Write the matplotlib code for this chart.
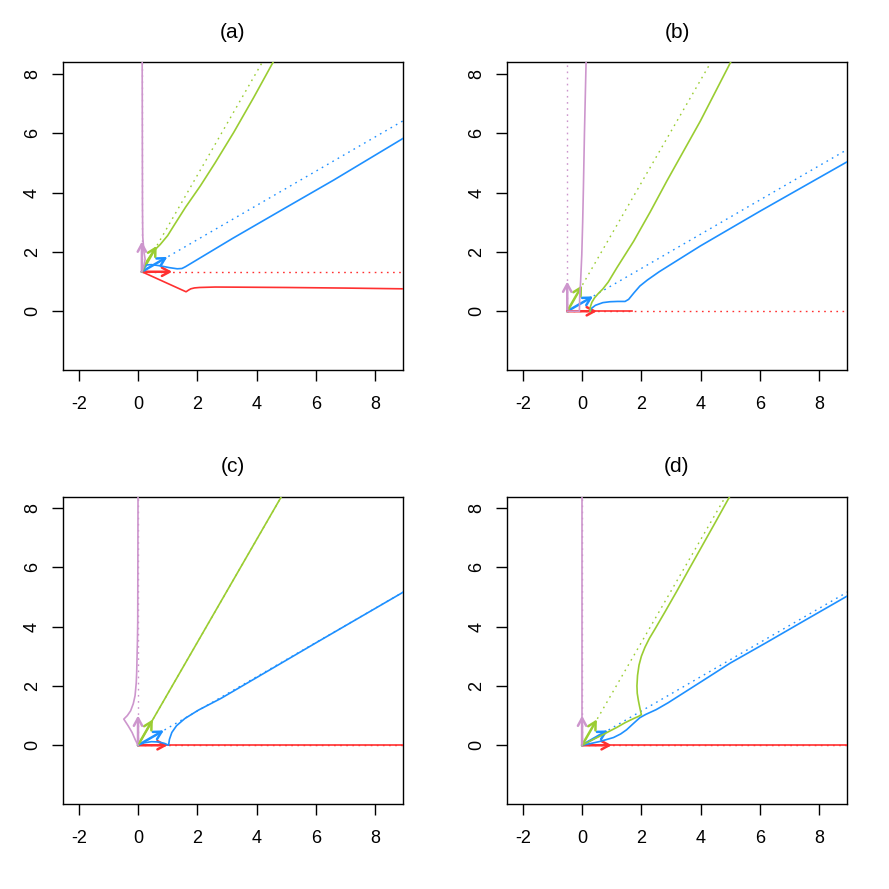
import matplotlib
matplotlib.use("Agg")
import matplotlib.pyplot as plt

plt.rcParams['font.family'] = ['Liberation Sans', 'DejaVu Sans']
plt.rcParams['axes.unicode_minus'] = False

RED = '#FF3030'
BLUE = '#1E90FF'
GREEN = '#9ACD32'
PURPLE = '#CD96CD'

titles = ['(a)', '(b)', '(c)', '(d)']
xticks = [-2, 0, 2, 4, 6, 8]
yticks = [0, 2, 4, 6, 8]

# panel (a)
a_origin = (0.13, 1.33)
a_tips = [(1.15, 1.33), (0.99, 1.83), (0.63, 2.20), (0.13, 2.35)]
a_dotted_ends = [(9.5, 1.33), (9.5, 6.74), (4.6, 9.1), (0.13, 9.0)]
a_red_x = [0.13, 1.62, 1.70, 1.78, 1.90, 2.07, 2.6, 3.5, 5.0, 7.0, 8.95]
a_red_y = [1.33, 0.655, 0.71, 0.755, 0.785, 0.80, 0.815, 0.81, 0.80, 0.78, 0.755]
a_blue_x = [0.13, 0.22, 0.30, 0.45, 0.75, 1.05, 1.32, 1.48, 1.60, 1.90, 3.20, 5.0, 6.6, 8.95]
a_blue_y = [1.33, 1.48, 1.56, 1.57, 1.53, 1.47, 1.43, 1.44, 1.50, 1.68, 2.46, 3.50, 4.42, 5.83]
a_green_x = [0.13, 0.30, 0.50, 0.75, 1.00, 1.20, 1.60, 2.10, 2.60, 3.23, 3.90, 4.56]
a_green_y = [1.33, 1.70, 2.00, 2.25, 2.55, 2.87, 3.50, 4.22, 5.00, 6.03, 7.20, 8.40]
a_purple_x = [0.13, 0.20, 0.24, 0.20, 0.16, 0.15, 0.14]
a_purple_y = [1.33, 1.55, 1.75, 2.00, 2.50, 3.50, 8.50]

# panel (b)
b_origin = (-0.5, 0.0)
b_tips = [(0.5, 0.0), (0.37, 0.5), (0.0, 0.87), (-0.5, 1.0)]
b_dotted_ends = [(9.5, 0.0), (9.5, 5.77), (4.5, 8.66), (-0.5, 9.0)]
b_red_x = [-0.5, 1.67]
b_red_y = [0.0, 0.0]
b_blue_x = [0.27, 0.32, 0.45, 0.70, 0.94, 1.20, 1.45, 1.57, 1.75, 1.95, 2.20, 2.60, 3.99, 6.0, 8.93]
b_blue_y = [0.00, 0.10, 0.20, 0.29, 0.32, 0.33, 0.33, 0.40, 0.62, 0.85, 1.05, 1.33, 2.20, 3.37, 5.03]
b_green_x = [0.27, 0.28, 0.33, 0.42, 0.55, 0.70, 0.88, 1.17, 1.74, 2.30, 2.86, 3.99, 5.02]
b_green_y = [0.00, 0.15, 0.30, 0.45, 0.60, 0.75, 0.98, 1.46, 2.36, 3.35, 4.39, 6.41, 8.41]
b_purple_x = [-0.5, -0.09, -0.08, -0.05, -0.01, 0.02, 0.045, 0.08, 0.135]
b_purple_y = [0.0, 0.0, 0.5, 1.0, 1.9, 3.0, 4.16, 6.0, 8.4]

# panel (c)
c_origin = (0.0, 0.0)
c_tips = [(1.0, 0.0), (0.87, 0.5), (0.5, 0.87), (0.0, 1.0)]
c_dotted_ends = [(9.5, 0.0), (9.5, 5.48), (5.0, 8.66), (0.0, 9.0)]
c_red_x = [0.0, 9.5]
c_red_y = [0.0, 0.0]
c_blue_x = [0.0, 0.20, 0.45, 0.70, 0.90, 1.03, 1.06, 1.14, 1.30, 1.58, 2.03, 2.80, 4.0, 6.0, 8.93]
c_blue_y = [0.0, 0.08, 0.12, 0.11, 0.06, 0.00, 0.20, 0.43, 0.66, 0.90, 1.18, 1.58, 2.28, 3.45, 5.15]
c_green_x = [0.0, 4.9]
c_green_y = [0.0, 8.49]
c_purple_x = [0.0, -0.10, -0.20, -0.33, -0.48, -0.36, -0.25, -0.16, -0.10, -0.06, -0.045, -0.02, -0.01, 0.0]
c_purple_y = [0.0, 0.20, 0.43, 0.65, 0.88, 1.00, 1.16, 1.40, 1.67, 2.10, 2.46, 3.50, 4.15, 8.5]

# panel (d)
d_origin = (0.0, 0.0)
d_tips = [(1.0, 0.0), (0.87, 0.5), (0.5, 0.87), (0.0, 1.0)]
d_dotted_ends = [(9.5, 0.0), (9.5, 5.48), (5.0, 8.66), (0.0, 9.0)]
d_red_x = [0.0, 9.5]
d_red_y = [0.0, 0.0]
d_blue_x = [0.0, 0.30, 0.61, 1.06, 1.30, 1.50, 1.75, 1.95, 2.15, 2.50, 2.90, 4.0, 5.0, 6.2, 7.5, 8.93]
d_blue_y = [0.0, 0.06, 0.13, 0.26, 0.38, 0.52, 0.75, 0.93, 1.04, 1.20, 1.43, 2.13, 2.77, 3.45, 4.20, 5.02]
d_green_x = [0.0, 0.30, 0.61, 0.90, 1.17, 1.45, 1.74, 1.90, 2.00, 1.95, 1.90, 1.86, 1.85, 1.87, 1.92, 2.00,
             2.12, 2.27, 2.45, 2.80, 3.20, 3.60, 4.00, 4.50, 4.99]
d_green_y = [0.0, 0.16, 0.31, 0.46, 0.60, 0.76, 0.90, 0.97, 1.03, 1.25, 1.50, 1.75, 2.00, 2.35, 2.70, 3.00,
             3.30, 3.60, 3.90, 4.50, 5.20, 5.92, 6.63, 7.52, 8.40]
d_purple_x = [0.0, 0.0]
d_purple_y = [0.0, 8.5]

panels = [
    (a_origin, a_tips, a_dotted_ends, (a_red_x, a_red_y), (a_blue_x, a_blue_y),
     (a_green_x, a_green_y), (a_purple_x, a_purple_y)),
    (b_origin, b_tips, b_dotted_ends, (b_red_x, b_red_y), (b_blue_x, b_blue_y),
     (b_green_x, b_green_y), (b_purple_x, b_purple_y)),
    (c_origin, c_tips, c_dotted_ends, (c_red_x, c_red_y), (c_blue_x, c_blue_y),
     (c_green_x, c_green_y), (c_purple_x, c_purple_y)),
    (d_origin, d_tips, d_dotted_ends, (d_red_x, d_red_y), (d_blue_x, d_blue_y),
     (d_green_x, d_green_y), (d_purple_x, d_purple_y)),
]
colors = [RED, BLUE, GREEN, PURPLE]

fig = plt.figure(figsize=(8.89, 8.89), dpi=100)
lefts = [0.0712, 0.5707, 0.0712, 0.5707]
bottoms = [0.5838, 0.5838, 0.0956, 0.0956]
w, h = 0.3816, 0.3459

for i, (origin, tips, dends, *curves) in enumerate(panels):
    ax = fig.add_axes([lefts[i], bottoms[i], w, h])
    ax.set_xlim(-2.52, 8.92)
    ax.set_ylim(-1.98, 8.38)

    # dotted reference directions
    for col, end in zip(colors, dends):
        ax.plot([origin[0], end[0]], [origin[1], end[1]], color=col, lw=1.0,
                dashes=(1.2, 3.2), zorder=1)
    # unit vectors
    for col, tip in zip(colors, tips):
        ax.annotate('', xy=tip, xytext=origin,
                    arrowprops=dict(arrowstyle='->,head_length=0.55,head_width=0.3',
                                    color=col, lw=1.8, shrinkA=0, shrinkB=0),
                    zorder=2)
    # solid curves
    for col, (cx, cy) in zip(colors, curves):
        ax.plot(cx, cy, color=col, lw=1.2, zorder=3, solid_joinstyle='round')

    ax.set_xticks(xticks)
    ax.set_yticks(yticks)
    ax.set_xticklabels([str(t) for t in xticks])
    ax.set_yticklabels([str(t) for t in yticks], rotation=90, va='center')
    ax.tick_params(direction='out', length=8, width=1.0, labelsize=13)
    ax.tick_params(axis='x', pad=10.5)
    ax.tick_params(axis='y', pad=8)
    for sp in ax.spines.values():
        sp.set_linewidth(1.0)
    ax.text(0.5, 1.098, titles[i], transform=ax.transAxes, ha='center', va='center',
            fontsize=15)

fig.savefig('out.png', dpi=100)
